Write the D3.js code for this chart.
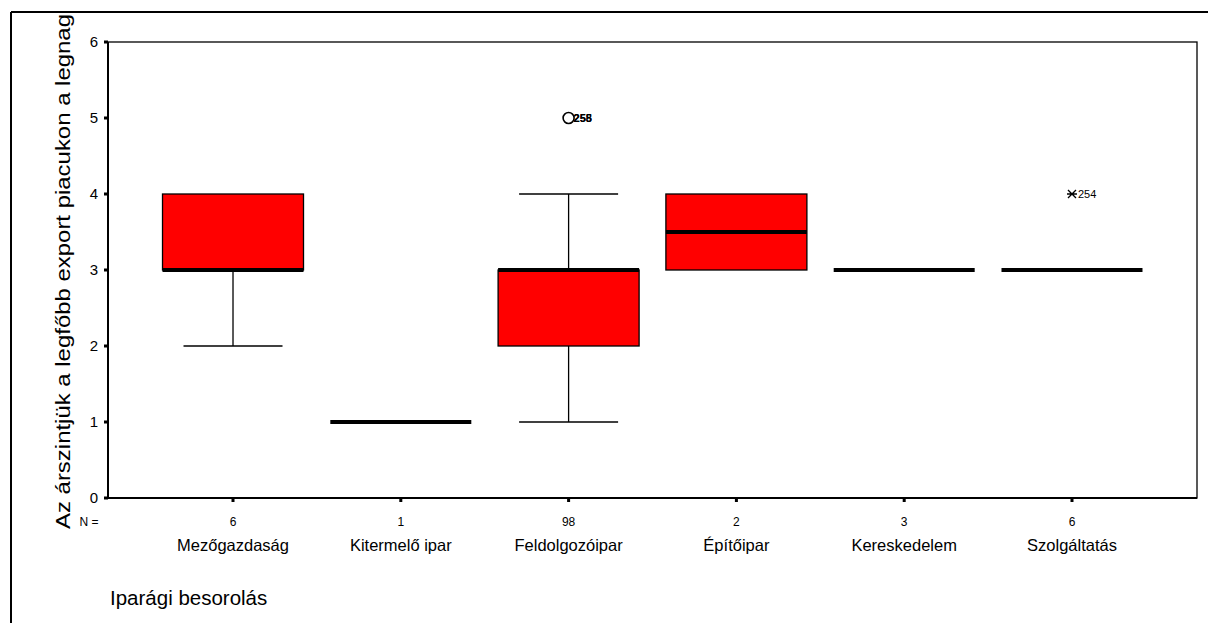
<!DOCTYPE html>
<head>
  <meta charset="utf-8">
  <title>boxplot</title>
  <script src="https://cdn.jsdelivr.net/npm/d3@7"></script>
  <style>
    body { margin: 0; background: #fff; }
    text { font-family: Arial, "Liberation Sans", sans-serif; fill: #000; }
  </style>
</head>
<body>
<script>
// categories and N counts
var categories = ["Mezőgazdaság", "Kitermelő ipar", "Feldolgozóipar", "Építőipar", "Kereskedelem", "Szolgáltatás"];
var counts = [6, 1, 98, 2, 3, 6];
// box statistics per category
var whiskerLow = [2, 1, 1, 3, 3, 3];
var q1 = [3, 1, 2, 3, 3, 3];
var median = [3, 1, 3, 3.5, 3, 3];
var q3 = [4, 1, 3, 4, 3, 3];
var whiskerHigh = [4, 1, 4, 4, 3, 3];
// outliers (circle) and extremes (star)
var outliers = [{ cat: "Feldolgozóipar", value: 5, labels: ["255", "258"] }];
var extremes = [{ cat: "Szolgáltatás", value: 4, labels: ["254"] }];
var yTicks = [0, 1, 2, 3, 4, 5, 6];

function drawChart() {
  var W = 1208, H = 623;
  var svg = d3.select("body").append("svg").attr("width", W).attr("height", H);

  var pLeft = 108, pRight = 1197, pTop = 42, pBottom = 498;
  var x = d3.scalePoint().domain(categories).range([pLeft, pRight]).padding(0.745);
  var y = d3.scaleLinear().domain([0, 6]).range([pBottom, pTop]);
  var boxW = 141, capW = 99;
  var idx = d => categories.indexOf(d);

  // outer frame
  svg.append("line").attr("x1", 11).attr("y1", 12).attr("x2", W).attr("y2", 12)
    .attr("stroke", "#000").attr("stroke-width", 2);
  svg.append("line").attr("x1", 11).attr("y1", 12).attr("x2", 11).attr("y2", H)
    .attr("stroke", "#000").attr("stroke-width", 2);

  // plot frame
  svg.append("rect").attr("x", pLeft).attr("y", pTop).attr("width", pRight - pLeft).attr("height", pBottom - pTop)
    .attr("fill", "none").attr("stroke", "#000").attr("stroke-width", 1.3);
  svg.append("line").attr("x1", pLeft).attr("y1", pTop).attr("x2", pLeft).attr("y2", pBottom)
    .attr("stroke", "#000").attr("stroke-width", 2);
  svg.append("line").attr("x1", pLeft).attr("y1", pBottom).attr("x2", pRight).attr("y2", pBottom)
    .attr("stroke", "#000").attr("stroke-width", 2);

  // y axis ticks
  var ya = svg.append("g");
  ya.selectAll("rect").data(yTicks).enter().append("rect")
    .attr("x", pLeft - 4).attr("y", d => y(d) - 1.5).attr("width", 4).attr("height", 3).attr("fill", "#000");
  ya.selectAll("text").data(yTicks).enter().append("text")
    .attr("x", pLeft - 10).attr("y", d => y(d) + 5).attr("text-anchor", "end")
    .style("font-size", "15px").text(d => d);

  // x axis ticks
  var xa = svg.append("g");
  xa.selectAll("rect").data(categories).enter().append("rect")
    .attr("x", d => x(d) - 1.5).attr("y", pBottom).attr("width", 3).attr("height", 4).attr("fill", "#000");
  xa.selectAll("text.n").data(categories).enter().append("text").attr("class", "n")
    .attr("x", d => x(d)).attr("y", 526).attr("text-anchor", "middle")
    .style("font-size", "12px").text((d, i) => counts[i]);
  svg.append("text").attr("x", 89).attr("y", 526).attr("text-anchor", "middle")
    .style("font-size", "12px").text("N =");
  xa.selectAll("text.c").data(categories).enter().append("text").attr("class", "c")
    .attr("x", d => x(d)).attr("y", 551).attr("text-anchor", "middle")
    .style("font-size", "16.5px").text(d => d);

  svg.append("text").attr("x", 110).attr("y", 605).style("font-size", "20.5px").text("Iparági besorolás");

  // y axis title (cut off at the frame, as in the original)
  svg.append("text")
    .attr("transform", "translate(70,529) rotate(-90)")
    .attr("textLength", 515).attr("lengthAdjust", "spacingAndGlyphs")
    .style("font-size", "21px")
    .text("Az árszintjük a legfőbb export piacukon a legnag");

  // boxes
  var boxes = svg.append("g").selectAll("g").data(categories).enter().append("g");
  boxes.append("line")
    .attr("x1", d => x(d)).attr("x2", d => x(d))
    .attr("y1", d => y(whiskerLow[idx(d)])).attr("y2", d => y(q1[idx(d)]))
    .attr("stroke", "#000").attr("stroke-width", 1.3);
  boxes.append("line")
    .attr("x1", d => x(d)).attr("x2", d => x(d))
    .attr("y1", d => y(q3[idx(d)])).attr("y2", d => y(whiskerHigh[idx(d)]))
    .attr("stroke", "#000").attr("stroke-width", 1.3);
  boxes.filter(d => whiskerLow[idx(d)] < q1[idx(d)]).append("line")
    .attr("x1", d => x(d) - capW / 2).attr("x2", d => x(d) + capW / 2)
    .attr("y1", d => y(whiskerLow[idx(d)])).attr("y2", d => y(whiskerLow[idx(d)]))
    .attr("stroke", "#000").attr("stroke-width", 1.3);
  boxes.filter(d => whiskerHigh[idx(d)] > q3[idx(d)]).append("line")
    .attr("x1", d => x(d) - capW / 2).attr("x2", d => x(d) + capW / 2)
    .attr("y1", d => y(whiskerHigh[idx(d)])).attr("y2", d => y(whiskerHigh[idx(d)]))
    .attr("stroke", "#000").attr("stroke-width", 1.3);
  boxes.filter(d => q3[idx(d)] > q1[idx(d)]).append("rect")
    .attr("x", d => x(d) - boxW / 2).attr("width", boxW)
    .attr("y", d => y(q3[idx(d)]))
    .attr("height", d => y(q1[idx(d)]) - y(q3[idx(d)]))
    .attr("fill", "#ff0000").attr("stroke", "#000").attr("stroke-width", 1.3);
  boxes.append("line")
    .attr("x1", d => x(d) - boxW / 2).attr("x2", d => x(d) + boxW / 2)
    .attr("y1", d => y(median[idx(d)])).attr("y2", d => y(median[idx(d)]))
    .attr("stroke", "#000").attr("stroke-width", 4);

  // outliers
  var out = svg.append("g");
  outliers.forEach(function(o) {
    out.append("circle").attr("cx", x(o.cat)).attr("cy", y(o.value)).attr("r", 5.5)
      .attr("fill", "none").attr("stroke", "#000").attr("stroke-width", 1.6);
    o.labels.forEach(function(l) {
      out.append("text").attr("x", x(o.cat) + 5).attr("y", y(o.value) + 4)
        .style("font-size", "11px").style("font-weight", "bold").text(l);
    });
  });
  extremes.forEach(function(o) {
    var cx = x(o.cat), cy = y(o.value);
    out.append("path")
      .attr("d", "M" + (cx - 5) + "," + cy + "H" + (cx + 5) +
        "M" + (cx - 4) + "," + (cy - 4) + "L" + (cx + 4) + "," + (cy + 4) +
        "M" + (cx - 4) + "," + (cy + 4) + "L" + (cx + 4) + "," + (cy - 4))
      .attr("stroke", "#000").attr("stroke-width", 1.3);
    o.labels.forEach(function(l) {
      out.append("text").attr("x", cx + 6).attr("y", cy + 4)
        .style("font-size", "11px").text(l);
    });
  });
}
drawChart();
</script>
</body>
